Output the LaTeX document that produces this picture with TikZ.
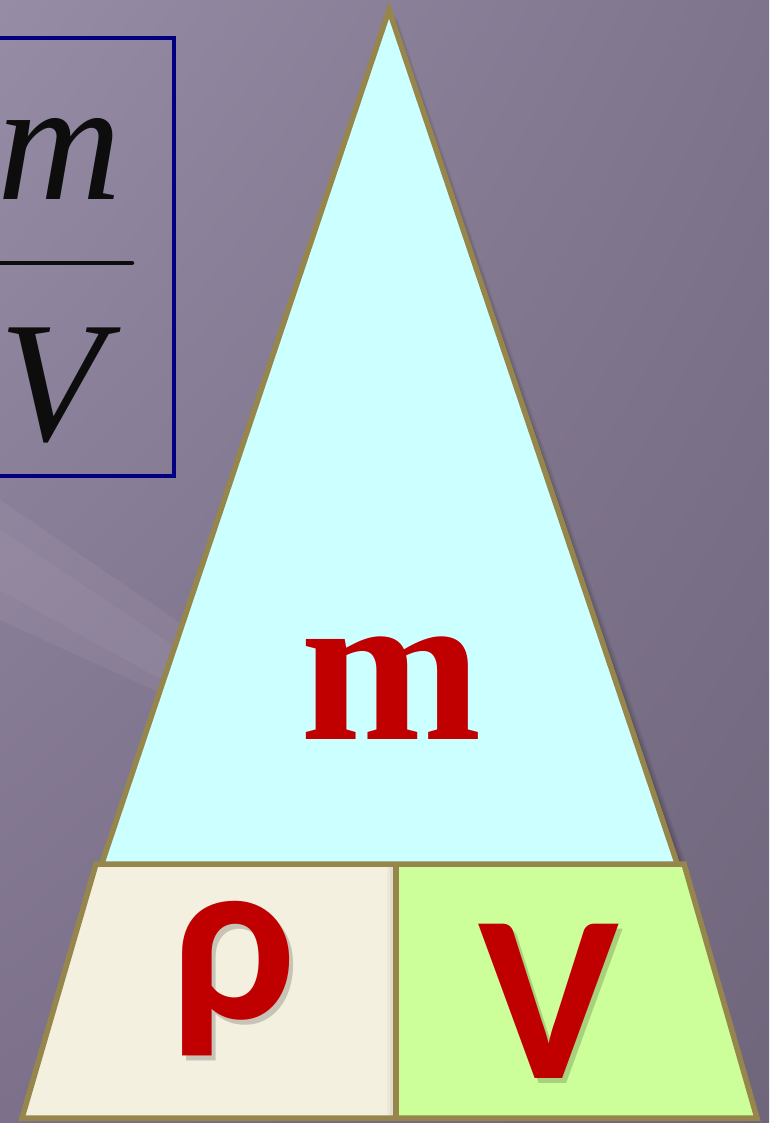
\documentclass[tikz,border=0pt]{standalone}
\usepackage{fontspec}
\usetikzlibrary{shadings}
\newfontfamily\calfont{Carlito}
\newfontfamily\timesfont{Liberation Serif}
\definecolor{bgUL}{RGB}{150,140,165}
\definecolor{bgUR}{RGB}{126,116,140}
\definecolor{bgLL}{RGB}{124,112,138}
\definecolor{bgLR}{RGB}{112,102,124}
\definecolor{triFill}{RGB}{204,255,255}
\definecolor{rhoFill}{RGB}{243,240,224}
\definecolor{vFill}{RGB}{204,255,153}
\definecolor{olive}{RGB}{150,134,76}
\definecolor{letterRed}{RGB}{192,0,0}
\definecolor{boxNavy}{RGB}{0,0,128}
\tikzset{
  outline/.style={draw=olive, line width=5.5pt, line join=miter},
  redletter/.style={text=letterRed, inner sep=0pt, anchor=base},
  shadowletter/.style={text=black, opacity=0.18, inner sep=0pt, anchor=base},
  bigsans/.style={font=\calfont\bfseries\fontsize{238}{238}\selectfont},
  fracletter/.style={text=black!95, inner sep=0pt, anchor=base, font=\timesfont\itshape\fontsize{172}{172}\selectfont},
}
\begin{document}
\begin{tikzpicture}[x=1pt,y=-1pt]
\useasboundingbox (0,0) rectangle (769,1123);
% background
\shade[upper left=bgUL, upper right=bgUR, lower left=bgLL, lower right=bgLR] (0,0) rectangle (769,1123);
\fill[white, opacity=0.05] (0,500) -- (220,650) -- (220,720) -- (0,620) -- cycle;
\fill[white, opacity=0.04] (0,530) -- (180,650) -- (180,690) -- (0,590) -- cycle;
% formula box
\draw[boxNavy, line width=3.5pt] (-20,38) rectangle (174,476);
\node[fracletter] (fm) at (60,200) {m};
\node[fracletter] (fv) at (52,440) {V};
\coordinate (barL) at (-10,263);
\coordinate (barR) at (132,263);
\draw[black!95, line width=4.5pt, line cap=round] (barL) -- (barR);
% triangle shadow
\foreach \o/\a in {8/0.05,6/0.07,4/0.09,2/0.11}{
  \fill[black, opacity=\a] (389+\o,10+\o) -- (679+\o,866) -- (100+\o,866) -- cycle;
}
% triangle
\coordinate (apex) at (389,10);
\coordinate (tL) at (101,866);
\coordinate (tR) at (678,866);
\path[fill=triFill, outline] (apex) -- (tR) -- (tL) -- cycle;
% trapezoids
\coordinate (a) at (96,864);
\coordinate (b) at (396,864);
\coordinate (c) at (684,864);
\coordinate (d) at (757,1118);
\coordinate (e) at (396,1118);
\coordinate (f) at (22,1118);
\path[fill=rhoFill] (a) -- (b) -- (e) -- (f) -- cycle;
\path[fill=vFill] (b) -- (c) -- (d) -- (e) -- cycle;
% soft shadow left of the divider
\foreach \o/\a in {9/0.03,6/0.04,3/0.06}{
  \fill[black, opacity=\a] (396-\o,866) rectangle (396,1116);
}
\path[outline] (a) -- (c) -- (d) -- (f) -- cycle;
\draw[olive, line width=5.5pt] (b) -- (e);
% letters
\node[redletter, font=\timesfont\bfseries\fontsize{218}{218}\selectfont] (m) at (391,739) {m};
\node[shadowletter, bigsans] (rhoS) at (238,1023) {ρ};
\node[redletter, bigsans] (rho) at (234,1018) {ρ};
\node[shadowletter, bigsans] (vS) at (553,1083) {V};
\node[redletter, bigsans] (v) at (549,1078) {V};
\end{tikzpicture}
\end{document}
